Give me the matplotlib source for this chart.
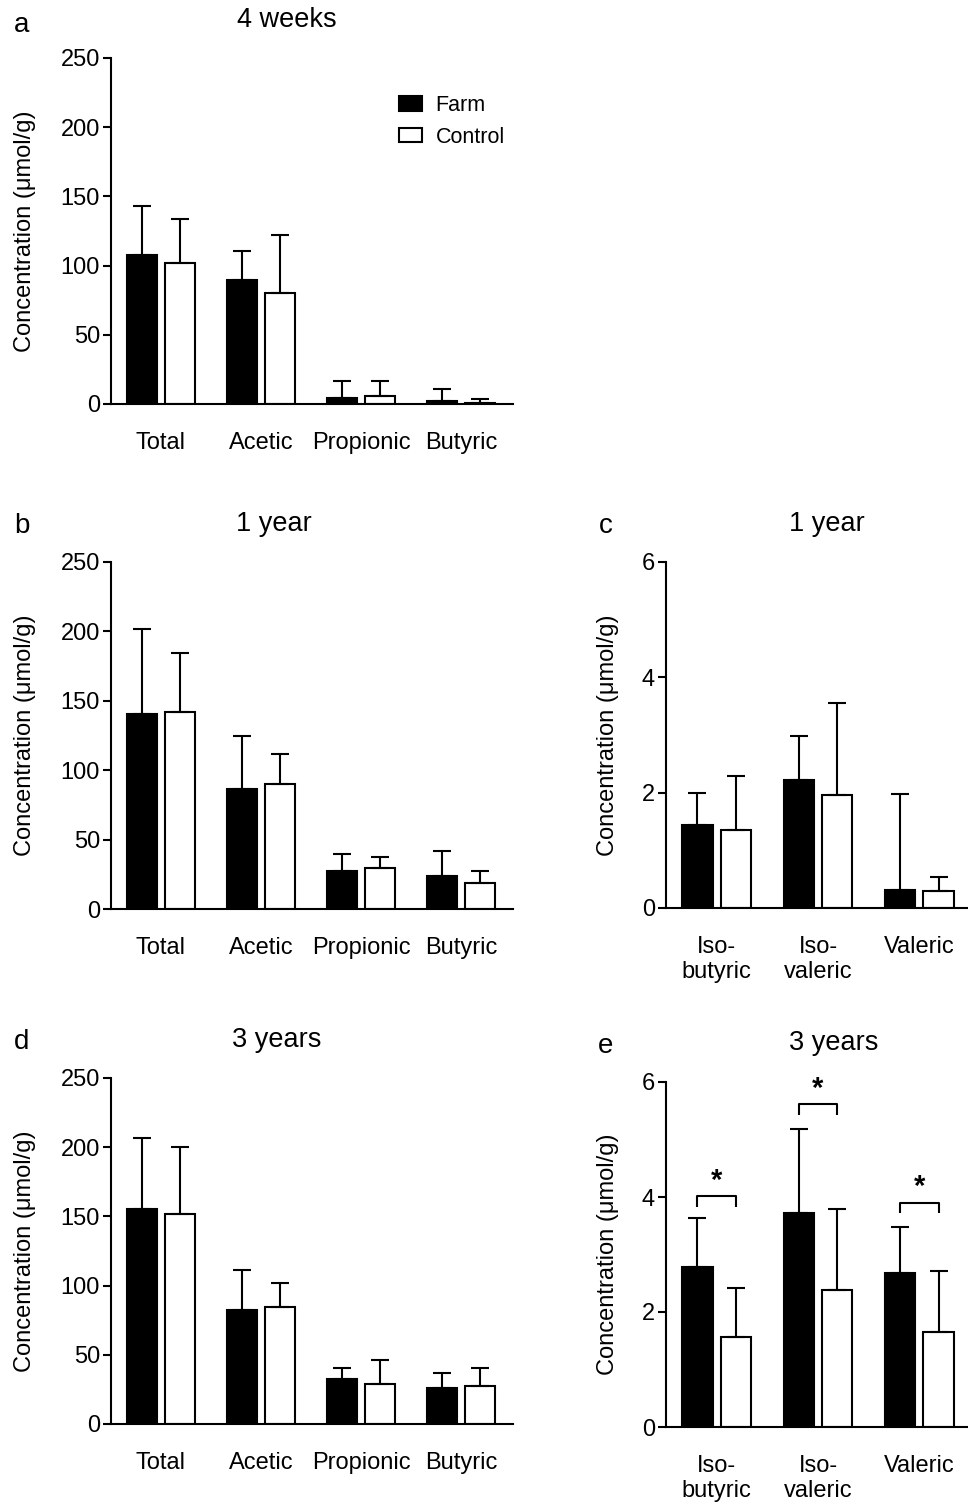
import matplotlib.pyplot as plt
from matplotlib.patches import Patch
import numpy as np

plt.rcParams['font.family'] = ['Liberation Sans', 'DejaVu Sans']

# data
scfa = ["Total", "Acetic", "Propionic", "Butyric"]
bcfa = ["Iso-\nbutyric", "Iso-\nvaleric", "Valeric"]

# 4 weeks
a_farm = [108, 89.6, 4.0, 2.2]
a_farm_sd = [35, 21.2, 12.8, 8.4]
a_ctrl = [101.6, 80.2, 5.5, 0.7]
a_ctrl_sd = [32.4, 41.7, 11.3, 2.7]
# 1 year
b_farm = [140.6, 86.3, 27.6, 24.0]
b_farm_sd = [61.4, 38.4, 12.3, 18.0]
b_ctrl = [141.8, 90.4, 29.6, 18.7]
b_ctrl_sd = [42.5, 21.6, 7.7, 8.5]
c_farm = [1.44, 2.22, 0.32]
c_farm_sd = [0.56, 0.77, 1.66]
c_ctrl = [1.36, 1.96, 0.29]
c_ctrl_sd = [0.93, 1.59, 0.25]
# 3 years
d_farm = [155.7, 82.3, 32.7, 25.8]
d_farm_sd = [50.8, 28.7, 7.7, 11.0]
d_ctrl = [151.4, 84.7, 28.6, 27.4]
d_ctrl_sd = [48.4, 16.9, 17.8, 12.8]
e_farm = [2.78, 3.73, 2.68]
e_farm_sd = [0.85, 1.45, 0.79]
e_ctrl = [1.57, 2.38, 1.65]
e_ctrl_sd = [0.85, 1.41, 1.07]
e_sig_y = [4.01, 5.61, 3.90]

W, H = 968, 1505
fig = plt.figure(figsize=(W/100, H/100), dpi=100)
FS = 17
LW = 1.5


def px_axes(left, top, right, bottom):
    return fig.add_axes([left/W, 1-bottom/H, (right-left)/W, (bottom-top)/H])


def draw(ax, cats, farm, farm_sd, ctrl, ctrl_sd, ymax, ystep, xmax, labx):
    x = np.arange(len(cats))
    ekw = dict(ecolor='black', elinewidth=LW, capsize=6.5, capthick=LW)
    ax.bar(x-0.19, farm, 0.30, color='black', edgecolor='black', lw=LW,
           yerr=[np.zeros(len(x)), farm_sd], error_kw=ekw, label='Farm')
    ax.bar(x+0.19, ctrl, 0.30, color='white', edgecolor='black', lw=LW,
           yerr=[np.zeros(len(x)), ctrl_sd], error_kw=ekw, label='Control')
    ax.set_xlim(-0.5, xmax)
    ax.set_ylim(0, ymax)
    ax.set_yticks(np.arange(0, ymax+ystep/2, ystep))
    ax.set_xticks(x)
    ax.set_xticklabels(cats, linespacing=1.2)
    for s in ['top', 'right']:
        ax.spines[s].set_visible(False)
    for s in ['left', 'bottom']:
        ax.spines[s].set_linewidth(LW)
    ax.tick_params(axis='y', direction='out', length=6, width=LW, labelsize=FS, pad=2)
    ax.tick_params(axis='x', length=0, labelsize=FS, pad=20)
    ax.set_ylabel("Concentration (μmol/g)", fontsize=FS)
    ax.yaxis.set_label_coords(labx, 0.5)


ax_a = px_axes(111, 58, 513, 404)
draw(ax_a, scfa, a_farm, a_farm_sd, a_ctrl, a_ctrl_sd, 250, 50, 3.52, -0.187)
ax_a.legend(handles=[Patch(facecolor='black', edgecolor='black', lw=LW, label='Farm'),
                     Patch(facecolor='white', edgecolor='black', lw=LW, label='Control')],
            loc='upper left', bbox_to_anchor=(399/W, 1-95/H), bbox_transform=fig.transFigure,
            frameon=False, fontsize=15.5, handlelength=1.07, handleheight=0.65,
            handletextpad=0.62, labelspacing=0.5, borderpad=0, borderaxespad=0)

ax_b = px_axes(111, 562, 513, 909)
draw(ax_b, scfa, b_farm, b_farm_sd, b_ctrl, b_ctrl_sd, 250, 50, 3.52, -0.187)

ax_c = px_axes(666, 562, 968, 908)
draw(ax_c, bcfa, c_farm, c_farm_sd, c_ctrl, c_ctrl_sd, 6, 2, 2.48, -0.157)

ax_d = px_axes(111, 1078, 513, 1424)
draw(ax_d, scfa, d_farm, d_farm_sd, d_ctrl, d_ctrl_sd, 250, 50, 3.52, -0.187)

ax_e = px_axes(666, 1082, 968, 1427)
draw(ax_e, bcfa, e_farm, e_farm_sd, e_ctrl, e_ctrl_sd, 6, 2, 2.48, -0.157)

# significance brackets in e
for i, yb in enumerate(e_sig_y):
    ax_e.plot([i-0.19, i-0.19, i+0.19, i+0.19], [yb-0.18, yb, yb, yb-0.18],
              color='black', lw=LW, solid_capstyle='butt')
    ax_e.text(i, yb+0.03, "*", ha='center', va='bottom', fontsize=21, fontweight='bold')

# titles and panel letters
for txt, xp, yp in [("4 weeks", 287, 20), ("1 year", 274, 524), ("1 year", 827, 524),
                    ("3 years", 277, 1040), ("3 years", 834, 1043)]:
    fig.text(xp/W, 1-yp/H, txt, ha='center', va='center', fontsize=19.5)
for txt, xp, yp in [("a", 22, 25), ("b", 22, 526), ("c", 606, 526),
                    ("d", 22, 1042), ("e", 606, 1046)]:
    fig.text(xp/W, 1-yp/H, txt, ha='center', va='center', fontsize=20)

fig.savefig("out.png", dpi=100)
